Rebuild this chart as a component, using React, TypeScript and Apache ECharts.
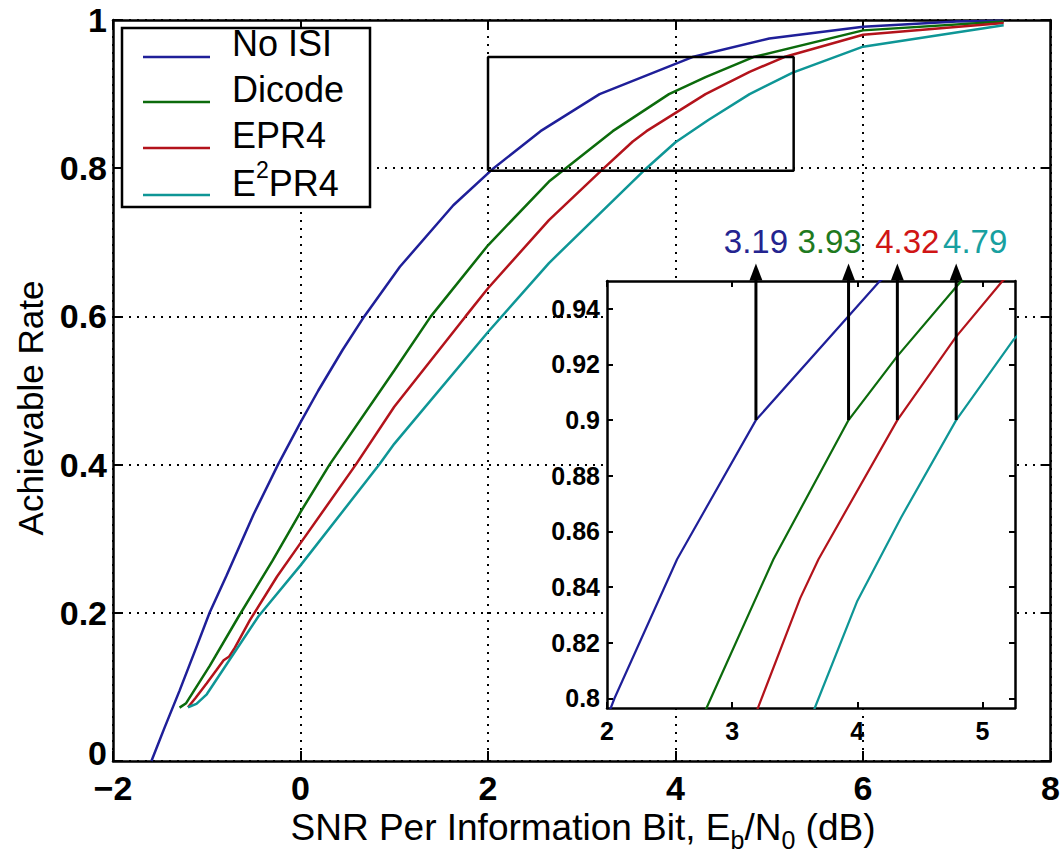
import React, { useEffect, useRef } from "react";
import * as echarts from "echarts";

// ---------- data ----------
const noIsiSnr = [-1.59, -1.45, -1.29, -1.1, -0.97, -0.79, -0.5, -0.24, 0.0, 0.19, 0.45, 0.68, 1.06, 1.63, 2.06, 2.56, 3.19, 4.18, 5.0, 6.0, 7.0, 7.5];
const noIsiRate = [0, 0.045, 0.095, 0.157, 0.2, 0.25, 0.333, 0.4, 0.457, 0.5, 0.555, 0.6, 0.667, 0.75, 0.8, 0.85, 0.9, 0.95, 0.975, 0.991, 0.998, 0.999];

const dicodeSnr = [-1.29, -1.22, -0.97, -0.66, -0.3, 0.0, 0.31, 1.0, 1.39, 2.0, 2.65, 2.83, 3.33, 3.93, 4.32, 4.83, 6.0, 7.5];
const dicodeRate = [0.072, 0.078, 0.128, 0.195, 0.27, 0.336, 0.4, 0.527, 0.6, 0.696, 0.782, 0.8, 0.85, 0.9, 0.923, 0.95, 0.986, 0.998];

const epr4Snr = [-1.2, -1.12, -1.0, -0.9, -0.82, -0.76, -0.7, -0.54, -0.25, 0.0, 0.59, 1.0, 1.76, 2.0, 2.65, 3.21, 3.544, 3.69, 4.32, 4.79, 5.16, 6.0, 7.5];
const epr4Rate = [0.0725, 0.085, 0.105, 0.122, 0.136, 0.141, 0.153, 0.19, 0.249, 0.294, 0.4, 0.478, 0.6, 0.638, 0.73, 0.797, 0.836, 0.85, 0.9, 0.93, 0.95, 0.98, 0.996];

const e2pr4Snr = [-1.2, -1.11, -1.0, -0.45, 0.0, 0.84, 1.0, 2.0, 2.65, 3.66, 4.0, 4.35, 4.79, 5.25, 6.0, 7.5];
const e2pr4Rate = [0.0725, 0.077, 0.09, 0.195, 0.264, 0.4, 0.428, 0.579, 0.672, 0.7965, 0.835, 0.865, 0.9, 0.929, 0.964, 0.993];

const seriesNames = ["No ISI", "Dicode", "EPR4", "E2PR4"];
const seriesSnr = [noIsiSnr, dicodeSnr, epr4Snr, e2pr4Snr];
const seriesRate = [noIsiRate, dicodeRate, epr4Rate, e2pr4Rate];

const mainXRange = [-2, 8];
const mainXInterval = 2;
const mainYRange = [0, 1];
const mainYInterval = 0.2;

const insetXRange = [2, 5.26];
const insetYRange = [0.7965, 0.95];
const insetXTicks = [2, 3, 4, 5];
const insetYTicks = [0.8, 0.82, 0.84, 0.86, 0.88, 0.9, 0.92, 0.94];

const arrowSnr = [3.19, 3.93, 4.32, 4.79];
const arrowRate = 0.9;

// ---------- styles ----------
const FONT = '"Liberation Sans", Arial, Helvetica, sans-serif';
const lineColors = ["#1f1f99", "#0c6b0c", "#b3131b", "#0e9696"];
const labelColors = ["#24248f", "#1f7a1f", "#d01515", "#18a0a0"];
const labelShift = [0, -19, 10, 19];

function zip(xs: number[], ys: number[]) {
  return xs.map((x, i) => [x, ys[i]]);
}

export default function App() {
  const ref = useRef<HTMLDivElement>(null);

  useEffect(() => {
    if (!ref.current) return;
    const chart = echarts.init(ref.current, undefined, { renderer: "svg" });

    const mainAxisLine = { show: true, onZero: false, lineStyle: { color: "#000", width: 2.5 } };
    const insetAxisLine = { show: true, onZero: false, lineStyle: { color: "#000", width: 2.5 } };
    const mainTick = { show: true, inside: true, length: 10, lineStyle: { color: "#000", width: 2 } };
    const mainLabel = { color: "#000", fontFamily: FONT, fontSize: 34, fontWeight: "bold" as const, lineHeight: 26 };
    const dotted = { show: true, lineStyle: { color: "#000", width: 2, type: [2, 6] as any } };

    const fmtMinus = (v: number) => (v < 0 ? "\u2212" + Math.abs(v) : String(v));

    const mainSeries = seriesSnr.map((snr, i) => ({
      type: "line",
      name: seriesNames[i],
      xAxisIndex: 0,
      yAxisIndex: 0,
      data: zip(snr, seriesRate[i]),
      symbol: "none",
      showSymbol: false,
      lineStyle: { color: lineColors[i], width: 2.5 },
      itemStyle: { color: lineColors[i] },
      z: 2,
      silent: true,
    }));

    const insetSeries = seriesSnr.map((snr, i) => ({
      type: "line",
      name: seriesNames[i] + " (zoom)",
      xAxisIndex: 2,
      yAxisIndex: 2,
      data: zip(snr, seriesRate[i]),
      symbol: "none",
      showSymbol: false,
      clip: true,
      lineStyle: { color: lineColors[i], width: 2.2 },
      itemStyle: { color: lineColors[i] },
      z: 12,
      silent: true,
    }));

    const boxSeries = {
      type: "line",
      name: "zoom box",
      xAxisIndex: 0,
      yAxisIndex: 0,
      data: [
        [insetXRange[0], insetYRange[0]],
        [insetXRange[1], insetYRange[0]],
        [insetXRange[1], insetYRange[1]],
        [insetXRange[0], insetYRange[1]],
        [insetXRange[0], insetYRange[0]],
      ],
      symbol: "none",
      lineStyle: { color: "#000", width: 2.5 },
      z: 3,
      silent: true,
    };

    // arrow tip slightly above the inset's top edge
    const tipRate = insetYRange[1] + 0.0032;
    const arrowSeries = arrowSnr.map((x, i) => ({
      type: "line",
      name: "arrow " + x,
      xAxisIndex: 2,
      yAxisIndex: 2,
      clip: false,
      z: 14,
      silent: true,
      symbol: "none",
      showSymbol: true,
      lineStyle: { color: "#000", width: 3 },
      itemStyle: { color: "#000" },
      data: [
        { value: [x, arrowRate], symbol: "none" },
        {
          value: [x, tipRate],
          symbol: "triangle",
          symbolSize: [13, 17],
          label: {
            show: true,
            position: "top",
            distance: 6,
            offset: [labelShift[i], 0],
            formatter: x.toFixed(2),
            color: labelColors[i],
            fontFamily: FONT,
            fontSize: 33,
          },
        },
      ],
    }));

    // legend drawn as graphic
    const legLeft = 122, legTop = 28, legW = 248, legH = 179;
    const legLineY = [57, 102, 148, 195];
    const legTextY = [43, 89, 135, 183];
    const legendEls: any[] = [
      {
        type: "rect",
        shape: { x: legLeft, y: legTop, width: legW, height: legH },
        style: { fill: "#fff", stroke: "#000", lineWidth: 2.5 },
        z: 20,
      },
    ];
    seriesNames.forEach((n, i) => {
      legendEls.push({
        type: "line",
        shape: { x1: 143, y1: legLineY[i], x2: 210, y2: legLineY[i] },
        style: { stroke: lineColors[i], lineWidth: 2.5 },
        z: 21,
      });
      const isE2 = n === "E2PR4";
      legendEls.push({
        type: "text",
        x: 232,
        y: legTextY[i],
        z: 21,
        style: {
          text: isE2 ? "E{sup|2}PR4" : n,
          fontFamily: FONT,
          fontSize: 36,
          fill: "#000",
          verticalAlign: "middle",
          align: "left",
          rich: {
            sup: { fontFamily: FONT, fontSize: 23, fill: "#000", padding: [0, 0, 26, 0] },
          },
        },
      });
    });

    const option: any = {
      animation: false,
      backgroundColor: "#fff",
      grid: [
        { left: 113, top: 20, width: 940, height: 741, show: false, z: 0 },
        { left: 607, top: 281, width: 408, height: 427, show: true, backgroundColor: "#fff", borderWidth: 0, z: 10 },
      ],
      xAxis: [
        {
          type: "value", gridIndex: 0, position: "bottom",
          min: mainXRange[0], max: mainXRange[1], interval: mainXInterval,
          axisLine: mainAxisLine, axisTick: mainTick,
          axisLabel: { ...mainLabel, margin: 14, formatter: fmtMinus },
          splitLine: dotted,
        },
        {
          type: "value", gridIndex: 0, position: "top",
          min: mainXRange[0], max: mainXRange[1], interval: mainXInterval,
          axisLine: mainAxisLine, axisTick: mainTick,
          axisLabel: { show: false }, splitLine: { show: false },
        },
        {
          type: "value", gridIndex: 1, position: "bottom", z: 11,
          min: insetXRange[0], max: insetXRange[1],
          axisLine: insetAxisLine,
          axisTick: { show: true, inside: true, length: 6, customValues: insetXTicks, lineStyle: { color: "#000", width: 2 } },
          axisLabel: { color: "#000", fontFamily: FONT, fontSize: 25, fontWeight: "bold", margin: 10, customValues: insetXTicks },
          splitLine: { show: false },
        },
        {
          type: "value", gridIndex: 1, position: "top", z: 11,
          min: insetXRange[0], max: insetXRange[1],
          axisLine: insetAxisLine,
          axisTick: { show: true, inside: true, length: 6, customValues: insetXTicks, lineStyle: { color: "#000", width: 2 } },
          axisLabel: { show: false }, splitLine: { show: false },
        },
      ],
      yAxis: [
        {
          type: "value", gridIndex: 0, position: "left",
          min: mainYRange[0], max: mainYRange[1], interval: mainYInterval,
          axisLine: mainAxisLine, axisTick: mainTick,
          axisLabel: {
            ...mainLabel,
            margin: 6,
            formatter: (v: number) => (v === 0 ? "{low|0}" : String(v)),
            rich: { low: { fontFamily: FONT, fontSize: 34, fontWeight: "bold", color: "#000", padding: [0, 0, 16, 0] } },
          },
          splitLine: dotted,
        },
        {
          type: "value", gridIndex: 0, position: "right",
          min: mainYRange[0], max: mainYRange[1], interval: mainYInterval,
          axisLine: mainAxisLine, axisTick: mainTick,
          axisLabel: { show: false }, splitLine: { show: false },
        },
        {
          type: "value", gridIndex: 1, position: "left", z: 11,
          min: insetYRange[0], max: insetYRange[1],
          axisLine: insetAxisLine,
          axisTick: { show: true, inside: true, length: 6, customValues: insetYTicks, lineStyle: { color: "#000", width: 2 } },
          axisLabel: { color: "#000", fontFamily: FONT, fontSize: 25, fontWeight: "bold", margin: 7, customValues: insetYTicks },
          splitLine: { show: false },
        },
        {
          type: "value", gridIndex: 1, position: "right", z: 11,
          min: insetYRange[0], max: insetYRange[1],
          axisLine: insetAxisLine,
          axisTick: { show: true, inside: true, length: 6, customValues: insetYTicks, lineStyle: { color: "#000", width: 2 } },
          axisLabel: { show: false }, splitLine: { show: false },
        },
      ],
      series: [...mainSeries, boxSeries, ...insetSeries, ...arrowSeries],
      graphic: [
        ...legendEls,
        {
          type: "text",
          x: 583,
          y: 827,
          z: 20,
          style: {
            text: "SNR Per Information Bit, E{sub|b}/N{sub|0} (dB)",
            fontFamily: FONT,
            fontSize: 37,
            lineHeight: 50,
            fill: "#000",
            align: "center",
            verticalAlign: "middle",
            rich: {
              sub: { fontFamily: FONT, fontSize: 25, fill: "#000", lineHeight: 24, verticalAlign: "bottom" },
            },
          },
        },
        {
          type: "text",
          x: 30,
          y: 408,
          rotation: Math.PI / 2,
          z: 20,
          style: {
            text: "Achievable Rate",
            fontFamily: FONT,
            fontSize: 35,
            fill: "#000",
            align: "center",
            verticalAlign: "middle",
          },
        },
      ],
    };

    chart.setOption(option);
    return () => chart.dispose();
  }, []);

  return (
    <div
      ref={ref}
      style={{ position: "absolute", left: 0, top: 0, width: 1063, height: 853, background: "#fff" }}
    />
  );
}
